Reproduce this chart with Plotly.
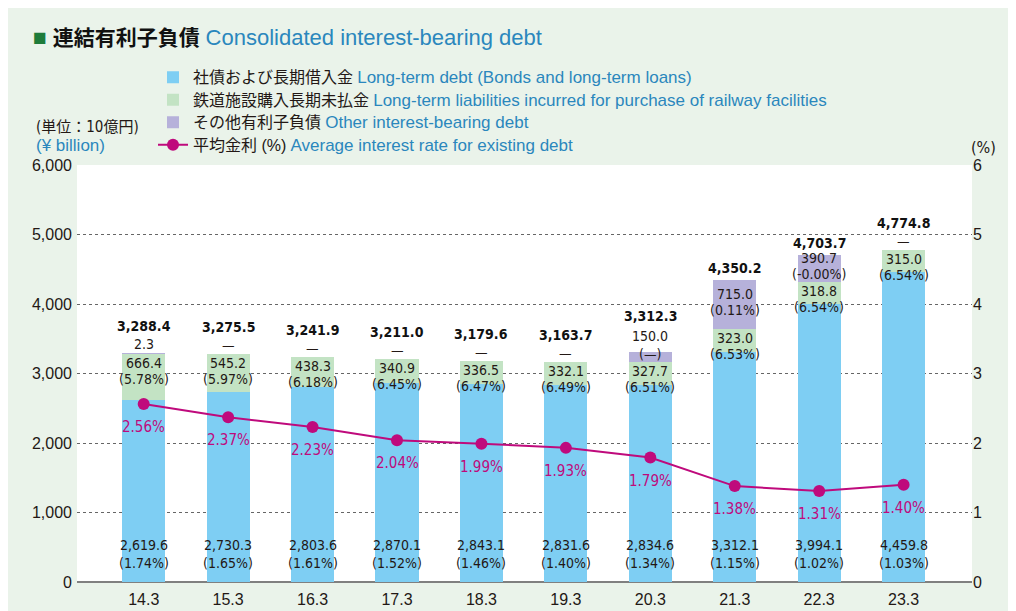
import plotly.graph_objects as go

# ---------------- data ----------------
categories = ["14.3", "15.3", "16.3", "17.3", "18.3", "19.3", "20.3", "21.3", "22.3", "23.3"]
long_term = [2619.6, 2730.3, 2803.6, 2870.1, 2843.1, 2831.6, 2834.6, 3312.1, 3994.1, 4459.8]
long_term_rate = [1.74, 1.65, 1.61, 1.52, 1.46, 1.40, 1.34, 1.15, 1.02, 1.03]
railway = [666.4, 545.2, 438.3, 340.9, 336.5, 332.1, 327.7, 323.0, 318.8, 315.0]
railway_rate = [5.78, 5.97, 6.18, 6.45, 6.47, 6.49, 6.51, 6.53, 6.54, 6.54]
other = [2.3, 0, 0, 0, 0, 0, 150.0, 715.0, 390.7, 0]
other_label = ["2.3", "—", "—", "—", "—", "—", "150.0", "715.0", "390.7", "—"]
other_rate_label = [None, None, None, None, None, None, "(—)", "(0.11%)", "(-0.00%)", None]
totals = [3288.4, 3275.5, 3241.9, 3211.0, 3179.6, 3163.7, 3312.3, 4350.2, 4703.7, 4774.8]
avg_rate = [2.56, 2.37, 2.23, 2.04, 1.99, 1.93, 1.79, 1.38, 1.31, 1.40]

# ---------------- styles ----------------
BLUE = "#7ecef3"
GREEN = "#c3e3c4"
PURPLE = "#b6b1da"
MAGENTA = "#bf0a7c"
EN = "#2a87bd"
BG = "#eaf3ea"
NARROW = "Liberation Sans Narrow, DejaVu Sans Condensed, Arial Narrow, Noto Sans CJK JP, sans-serif"
SANS = "Liberation Sans, Noto Sans CJK JP, sans-serif"

L, T, PW, PH = 69, 157, 895, 417   # plot area in figure pixels
YMAX = 6000


def en(s, size=None):
    st = 'color:' + EN
    if size:
        st += ';font-size:%dpx' % size
    return '<span style="' + st + '">' + s + '</span>'


def jp(s, size):
    return '<span style="font-size:%dpx">' % size + s + '</span>'


fig = go.Figure()
fig.add_bar(x=categories, y=long_term, marker_color=BLUE, marker_line_width=0, width=0.51,
            name=jp('社債および長期借入金', 16) + ' ' + en('Long-term debt (Bonds and long-term loans)', 17))
fig.add_bar(x=categories, y=railway, marker_color=GREEN, marker_line_width=0, width=0.51,
            name=jp('鉄道施設購入長期未払金', 16) + ' ' + en('Long-term liabilities incurred for purchase of railway facilities', 17))
fig.add_bar(x=categories, y=other, marker_color=PURPLE, marker_line_width=0, width=0.51,
            name=jp('その他有利子負債', 16) + ' ' + en('Other interest-bearing debt', 17))
fig.add_scatter(x=categories, y=avg_rate, yaxis="y2", mode="lines+markers",
                line=dict(color=MAGENTA, width=2), marker=dict(color=MAGENTA, size=12),
                name=jp('平均金利 (%)', 16) + ' ' + en('Average interest rate for existing debt', 17))

ann = []
lab_font = dict(family=NARROW, size=14, color="#231815")
tot_font = dict(family=NARROW, size=14, color="#111")


def lab(i, y, text, shift, font=lab_font, yref="y"):
    ann.append(dict(x=i, y=y, yref=yref, yanchor="middle", yshift=shift, showarrow=False,
                    borderpad=0, font=font, text=text))


for i, c in enumerate(categories):
    lt, rw, ot, tot = long_term[i], railway[i], other[i], totals[i]
    top = lt + rw + ot
    # long-term label at bottom of blue bar
    lab(i, 0, f"{lt:,.1f}", 37)
    lab(i, 0, f"({long_term_rate[i]:.2f}%)", 19)
    # railway label just under the top of the green segment
    lab(i, lt + rw, f"{rw:,.1f}", -9)
    lab(i, lt + rw, f"({railway_rate[i]:.2f}%)", -25)
    # other + total
    if other_rate_label[i] is None:
        lab(i, top, other_label[i], 9)
        lab(i, top, f"<b>{tot:,.1f}</b>", 27, tot_font)
    elif ot < 300:
        pmid = lt + rw + ot / 2
        lab(i, pmid, other_rate_label[i], 3)
        lab(i, pmid, other_label[i], 21)
        lab(i, pmid, f"<b>{tot:,.1f}</b>", 41, tot_font)
    else:
        pmid = lt + rw + ot / 2
        lab(i, pmid, other_label[i], 11)
        lab(i, pmid, other_rate_label[i], -5)
        lab(i, top, f"<b>{tot:,.1f}</b>", 12, tot_font)
    # average rate label
    lab(i, avg_rate[i], f"{avg_rate[i]:.2f}%", -23,
        dict(family=NARROW, size=15, color=MAGENTA), "y2")

# unit labels
ann.append(dict(xref="paper", yref="paper", x=(26 - L) / PW, y=1 + (T - 119) / PH,
                xanchor="left", yanchor="middle", showarrow=False, text="(単位：10億円)",
                font=dict(family=NARROW, size=15, color="#231815")))
ann.append(dict(xref="paper", yref="paper", x=(26 - L) / PW, y=1 + (T - 137) / PH,
                xanchor="left", yanchor="middle", showarrow=False, text="(¥ billion)",
                font=dict(family=SANS, size=17, color=EN)))
ann.append(dict(xref="paper", yref="paper", x=(961 - L) / PW, y=1 + (T - 139) / PH,
                xanchor="left", yanchor="middle", showarrow=False, text="(%)",
                font=dict(family=NARROW, size=16, color="#231815")))

fig.update_layout(
    width=1016, height=611,
    barmode="stack",
    paper_bgcolor=BG, plot_bgcolor="white",
    margin=dict(l=L, r=1016 - L - PW, t=T, b=611 - T - PH, autoexpand=False),
    title=dict(text='<span style="color:#1e7b3a;font-size:23px">■</span> <b>連結有利子負債</b> '
                    + en('Consolidated interest-bearing debt', 22),
               x=25 / 1016, xanchor="left", y=1 - 30 / 611, yanchor="middle",
               font=dict(family=SANS, size=21, color="#111")),
    font=dict(family=SANS, color="#231815"),
    showlegend=True,
    legend=dict(x=(145 - L) / PW, y=1 + (T - 53) / PH, xanchor="left", yanchor="top",
                traceorder="normal", bgcolor="rgba(0,0,0,0)",
                font=dict(family=SANS, size=15, color="#231815"),
                tracegroupgap=0, itemwidth=30),
    xaxis=dict(type="category", range=[-0.79, 9.81], showgrid=False, ticks="",
               tickfont=dict(family=SANS, size=16, color="#231815"), fixedrange=True,
               showline=False, zeroline=False, ticklabelstandoff=6),
    yaxis=dict(range=[0, YMAX], tickvals=[0, 1000, 2000, 3000, 4000, 5000, 6000],
               ticktext=["0", "1,000", "2,000", "3,000", "4,000", "5,000", "6,000"],
               showgrid=True, gridcolor="#666", griddash="dot", gridwidth=1,
               zeroline=True, zerolinecolor="#808080", zerolinewidth=2,
               tickfont=dict(family=SANS, size=16, color="#231815"), ticks="", ticklabelstandoff=4),
    yaxis2=dict(range=[0, 6], overlaying="y", side="right", tickvals=[0, 1, 2, 3, 4, 5, 6],
                showgrid=False, zeroline=False,
                tickfont=dict(family=SANS, size=16, color="#231815"), ticks=""),
    annotations=ann,
)

fig.write_html("out.html")
